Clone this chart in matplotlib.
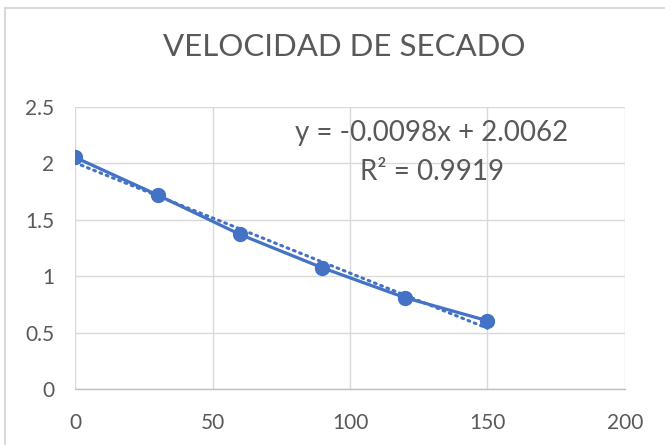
import numpy as np
import matplotlib.pyplot as plt
from matplotlib.patches import Rectangle

# datos
tiempo = [0, 30, 60, 90, 120, 150]
velocidad = [2.054, 1.72, 1.37, 1.074, 0.81, 0.605]
x_ticks = [0, 50, 100, 150, 200]
y_ticks = [0, 0.5, 1, 1.5, 2, 2.5]
titulo = 'VELOCIDAD DE SECADO'
ecuacion = 'y = -0.0098x + 2.0062'
r2 = 'R² = 0.9919'

azul = '#4472C4'
gris = '#595959'

plt.rcParams['font.family'] = ['Lato', 'DejaVu Sans']

fig = plt.figure(figsize=(6.65, 4.45), dpi=100)
# borde del area del grafico (sale por la derecha y abajo)
fig.patches.append(Rectangle((5 / 665, -0.05), 1.1, 0.982 + 0.05,
                             transform=fig.transFigure, fill=False,
                             edgecolor='#D9D9D9', linewidth=1.5))
ax = fig.add_axes([0.1128, 0.1258, 0.8270, 0.6338])

# linea de tendencia lineal
m, b = np.polyfit(tiempo, velocidad, 1)
xt = np.array([tiempo[0], tiempo[-1]])
ax.plot(xt, m * xt + b, color=azul, linewidth=2.2, linestyle=(0, (0.6, 1.6)),
        dash_capstyle='round', zorder=2)

# serie
ax.plot(tiempo, velocidad, color=azul, linewidth=2.3, marker='o', markersize=10,
        zorder=3)

ax.set_xlim(0, 200)
ax.set_ylim(0, 2.5)
ax.set_xticks(x_ticks)
ax.set_yticks(y_ticks)
ax.set_xticklabels([str(v) for v in x_ticks])
ax.set_yticklabels([f'{v:g}' for v in y_ticks])
ax.tick_params(length=0, labelsize=15, colors=gris)
ax.tick_params(axis='y', pad=15)
ax.tick_params(axis='x', pad=17)
ax.grid(True, color='#D9D9D9', linewidth=1)
ax.set_axisbelow(True)
for s in ['left', 'right', 'top']:
    ax.spines[s].set_visible(False)
ax.spines['bottom'].set_color('#BFBFBF')
ax.spines['bottom'].set_linewidth(1)

ax.text(129.8, 2.27, ecuacion, ha='center', va='center', fontsize=20, color=gris)
ax.text(129.8, 1.92, r2, ha='center', va='center', fontsize=20, color=gris)

fig.text(0.517, 0.895, titulo, ha='center', va='center', fontsize=22.5, color=gris)

plt.savefig('out.png', dpi=100)
